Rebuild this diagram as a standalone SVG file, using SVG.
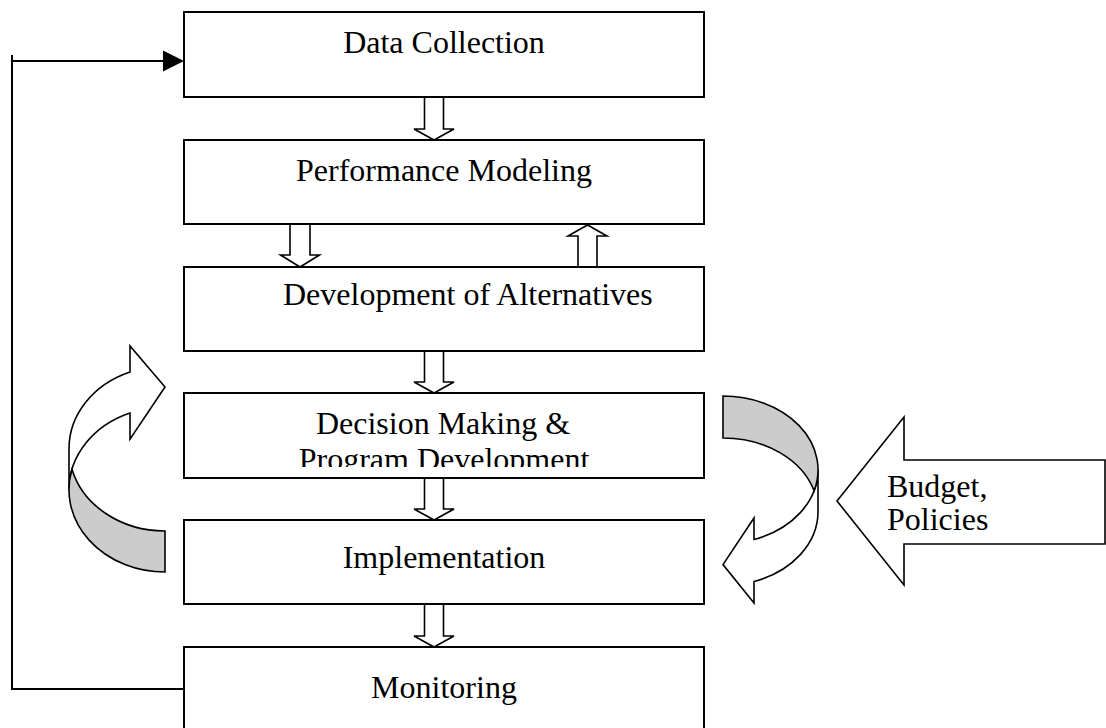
<svg xmlns="http://www.w3.org/2000/svg" width="1106" height="728" viewBox="0 0 1106 728">
<style>
.box{fill:#fff;stroke:#000;stroke-width:2}
.lbl{font-family:"Liberation Serif","Times New Roman",serif;font-size:32px;fill:#000}
.barrow{fill:#fff;stroke:#000;stroke-width:1.6;stroke-linejoin:miter}
.curve{stroke:#000;stroke-width:1.6;stroke-linejoin:miter}
.line{fill:none;stroke:#000;stroke-width:2}
</style>
<defs>
<clipPath id="clipDM"><rect x="184" y="393" width="520" height="74"/></clipPath>
</defs>
<rect width="1106" height="728" fill="#fff"/>

<g id="connectors">
<polyline class="line" points="184,689 12,689 12,55"/>
<line class="line" x1="12" y1="61" x2="166" y2="61"/>
<polygon points="163,50.5 184,61 163,71.5" fill="#000"/>
<polygon class="barrow" points="424.5,97 443.5,97 443.5,129 454,129 434,140 414,129 424.5,129"/>
<polygon class="barrow" points="290,224 310,224 310,255 319.5,255 300,267 280.5,255 290,255"/>
<polygon class="barrow" points="578,267 597,267 597,236 607,236 587.5,225 568,236 578,236"/>
<polygon class="barrow" points="424.5,351 443.5,351 443.5,382 454,382 434,393 414,382 424.5,382"/>
<polygon class="barrow" points="424.5,478 443.5,478 443.5,509 454,509 434,520 414,509 424.5,509"/>
<polygon class="barrow" points="424.5,604 443.5,604 443.5,636 454,636 434,647 414,636 424.5,636"/>
</g>

<g id="loop-left">
<path class="curve" fill="#fff" d="M69,489.7 A96,82.3 0 0 1 130,413.1 L130,439.1 L165,387 L130,346 L130,372.1 A96,82.3 0 0 0 69,448.7 Z"/>
<path class="curve" fill="#cccccc" d="M165,572 A96,82.3 0 0 1 72,469.2 A96,82.3 0 0 0 165,531 Z"/>
</g>

<g id="loop-right">
<path class="curve" fill="#fff" d="M818,469.8 A95,73.8 0 0 1 754,539.5 L754,518 L723,564.6 L754,603 L754,581.5 A95,73.8 0 0 0 818,511.8 Z"/>
<path class="curve" fill="#cccccc" d="M723,396 A95,73.8 0 0 1 814.1,490.8 A95,73.8 0 0 0 723,438 Z"/>
</g>

<g id="budget">
<polygon class="barrow" points="837,501 904,417 904,460 1105,460 1105,544 904,544 904,585"/>
<text class="lbl" x="887" y="497">Budget,</text>
<text class="lbl" x="887" y="530">Policies</text>
</g>

<g id="data-collection">
<rect class="box" x="184" y="12" width="520" height="85"/>
<text class="lbl" x="444" y="53" text-anchor="middle">Data Collection</text>
</g>

<g id="performance-modeling">
<rect class="box" x="184" y="140" width="520" height="84"/>
<text class="lbl" x="444" y="181" text-anchor="middle">Performance Modeling</text>
</g>

<g id="development-alternatives">
<rect class="box" x="184" y="267" width="520" height="84"/>
<text class="lbl" x="283" y="305">Development of Alternatives</text>
</g>

<g id="decision-making">
<rect class="box" x="184" y="393" width="520" height="85"/>
<text class="lbl" x="443" y="434" text-anchor="middle">Decision Making &amp;</text>
<text class="lbl" x="444" y="470" text-anchor="middle" clip-path="url(#clipDM)">Program Development</text>
</g>

<g id="implementation">
<rect class="box" x="184" y="520" width="520" height="84"/>
<text class="lbl" x="444" y="568" text-anchor="middle">Implementation</text>
</g>

<g id="monitoring">
<rect class="box" x="184" y="647" width="520" height="90"/>
<text class="lbl" x="444" y="698" text-anchor="middle">Monitoring</text>
</g>
</svg>
